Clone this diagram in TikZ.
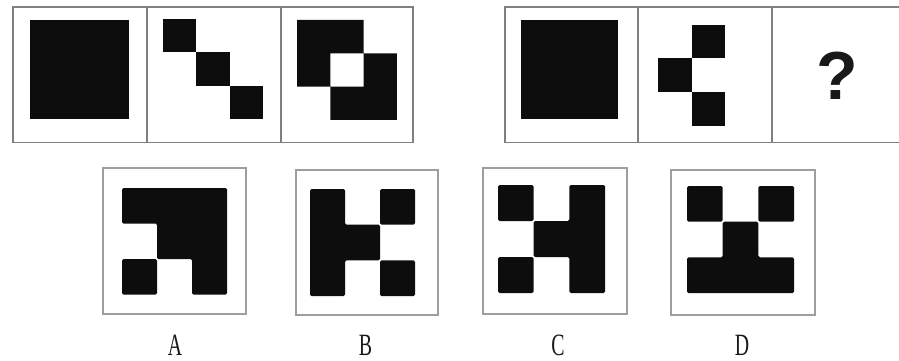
\documentclass[tikz,border=0pt]{standalone}
\usepackage{fontspec}
\setmainfont{Liberation Serif}
\newfontfamily\qfont{Liberation Sans}
\begin{document}
\begin{tikzpicture}[x=1pt,y=-1pt,
  frameline/.style={draw=black!50, line width=1.6pt},
  optframe/.style={draw=black!38, line width=1.2pt},
  blk/.style={fill=black!95, rounded corners=1.5pt},
  lbl/.style={font=\fontsize{31}{31}\selectfont, xscale=0.64, inner sep=0pt, anchor=base, text=black!90}]
\useasboundingbox (0,0) rectangle (899,361);
\fill[white] (0,0) rectangle (899,361);

% ---- top left group ----
\draw[frameline] (13,7) rectangle (413,142.5);
\draw[frameline] (147,7) -- (147,142.5);
\draw[frameline] (281,7) -- (281,142.5);
% cell 1
\fill[black!95] (30,20) rectangle (129,119);
% cell 2
\begin{scope}[shift={(163,19)}, x=33.3pt, y=-33.3pt]
  \fill[black!95] (0,0) rectangle (1,1);
  \fill[black!95] (1,1) rectangle (2,2);
  \fill[black!95] (2,2) rectangle (3,3);
\end{scope}
% cell 3
\begin{scope}[shift={(297,20)}, x=33.3pt, y=-33.3pt]
  \fill[black!95, even odd rule] (0,0) rectangle (2,2) (1,1) rectangle (3,3);
\end{scope}

% ---- top right group ----
\draw[frameline] (910,7) -- (505,7) -- (505,142.5) -- (910,142.5);
\draw[frameline] (638,7) -- (638,142.5);
\draw[frameline] (772,7) -- (772,142.5);
% cell 4
\fill[black!95] (521,20) rectangle (618,119);
% cell 5
\begin{scope}[shift={(658,25)}, x=33.5pt, y=-33.5pt]
  \fill[black!95] (1,0) rectangle (2,1);
  \fill[black!95] (0,1) rectangle (1,2);
  \fill[black!95] (1,2) rectangle (2,3);
\end{scope}
% cell 6
\node[font=\qfont\bfseries\fontsize{68}{68}\selectfont, inner sep=0pt, text=black!90] (q) at (837,76) {?};

% ---- options ----
\draw[optframe] (103,168) rectangle (246,314);
\draw[optframe] (296,170) rectangle (438,315);
\draw[optframe] (483,168) rectangle (627,314);
\draw[optframe] (671,170) rectangle (815,315);

% A
\begin{scope}[shift={(122,188)}, x=35pt, y=-35.5pt]
  \fill[blk] (0,0) -- (3,0) -- (3,3) -- (2,3) -- (2,2) -- (1,2) -- (1,1) -- (0,1) -- cycle;
  \fill[blk] (0,2) rectangle (1,3);
\end{scope}
% B
\begin{scope}[shift={(310,189)}, x=35pt, y=-35.7pt]
  \fill[blk] (0,0) -- (1,0) -- (1,1) -- (2,1) -- (2,2) -- (1,2) -- (1,3) -- (0,3) -- cycle;
  \fill[blk] (2,0) rectangle (3,1);
  \fill[blk] (2,2) rectangle (3,3);
\end{scope}
% C
\begin{scope}[shift={(498,185)}, x=35.7pt, y=-36pt]
  \fill[blk] (2,0) -- (3,0) -- (3,3) -- (2,3) -- (2,2) -- (1,2) -- (1,1) -- (2,1) -- cycle;
  \fill[blk] (0,0) rectangle (1,1);
  \fill[blk] (0,2) rectangle (1,3);
\end{scope}
% D
\begin{scope}[shift={(687,186)}, x=35.7pt, y=-35.7pt]
  \fill[blk] (1,1) -- (2,1) -- (2,2) -- (3,2) -- (3,3) -- (0,3) -- (0,2) -- (1,2) -- cycle;
  \fill[blk] (0,0) rectangle (1,1);
  \fill[blk] (2,0) rectangle (3,1);
\end{scope}

% labels
\node[lbl] (la) at (175,355.5) {A};
\node[lbl] (lb) at (365.5,355.5) {B};
\node[lbl] (lc) at (558,355.5) {C};
\node[lbl] (ld) at (742,355.5) {D};
\end{tikzpicture}
\end{document}
